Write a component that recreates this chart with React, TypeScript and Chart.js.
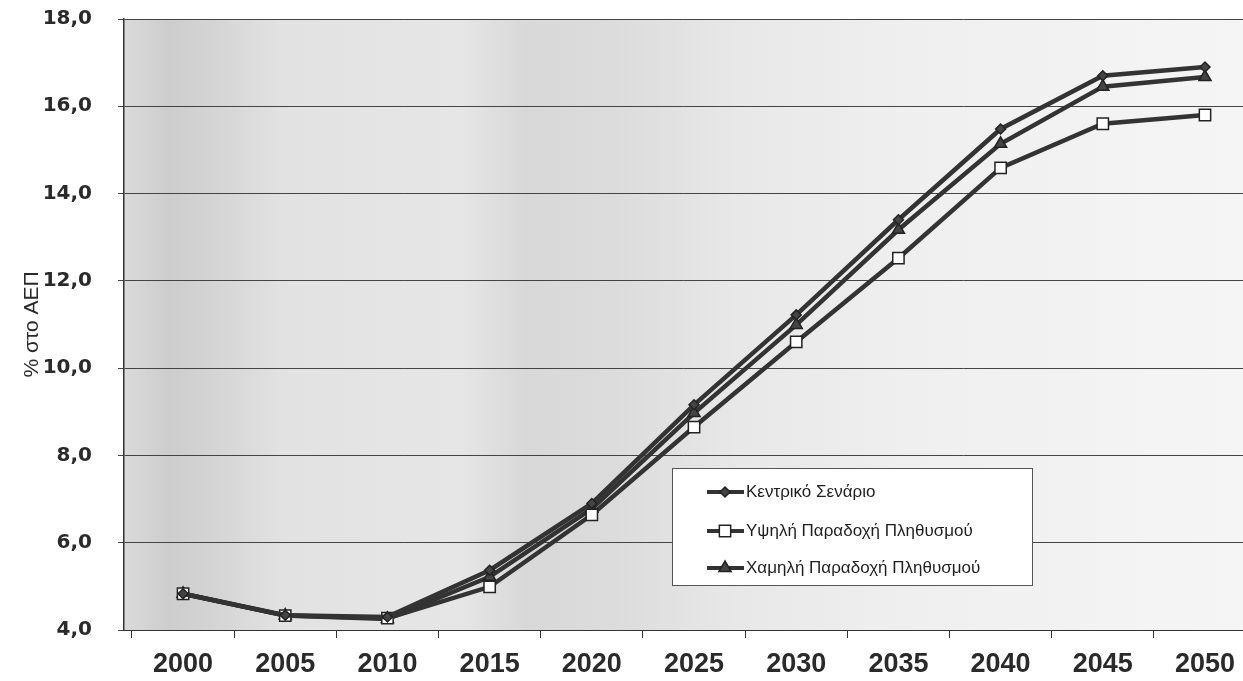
import React, { useEffect, useRef } from 'react';
import { Chart, registerables } from 'chart.js';

Chart.register(...registerables);

const years = [2000, 2005, 2010, 2015, 2020, 2025, 2030, 2035, 2040, 2045, 2050];
const central = [4.83, 4.34, 4.3, 5.37, 6.9, 9.16, 11.22, 13.4, 15.48, 16.7, 16.9];
const high = [4.83, 4.33, 4.27, 4.99, 6.64, 8.65, 10.6, 12.52, 14.59, 15.6, 15.8];
const low = [4.83, 4.33, 4.25, 5.22, 6.78, 8.97, 10.99, 13.17, 15.14, 16.45, 16.67];
const seriesLabels = ['Κεντρικό Σενάριο', 'Υψηλή Παραδοχή Πληθυσμού', 'Χαμηλή Παραδοχή Πληθυσμού'];
const yAxisTitle = '% στο ΑΕΠ';
const yMin = 4;
const yMax = 18;
const yStep = 2;

const LINE = '#333333';

const bgPlugin = {
  id: 'scanBg',
  beforeDraw(chart: any) {
    const { ctx, chartArea } = chart;
    if (!chartArea) return;
    const { left, top, right, bottom } = chartArea;
    ctx.save();
    const g = ctx.createLinearGradient(left, 0, right, 0);
    g.addColorStop(0, '#dadada');
    g.addColorStop(0.04, '#cdcdcd');
    g.addColorStop(0.08, '#d4d4d4');
    g.addColorStop(0.14, '#e2e2e2');
    g.addColorStop(0.3, '#e6e6e6');
    g.addColorStop(0.36, '#d8d8d8');
    g.addColorStop(0.44, '#dcdcdc');
    g.addColorStop(0.55, '#e8e8e8');
    g.addColorStop(0.7, '#efefef');
    g.addColorStop(1, '#f5f5f5');
    ctx.fillStyle = g;
    ctx.fillRect(left, top, right - left, bottom - top);
    ctx.restore();
  },
};

function drawMarker(ctx: CanvasRenderingContext2D, style: string, x: number, y: number, r: number, fill: string, stroke: string) {
  ctx.save();
  ctx.fillStyle = fill;
  ctx.strokeStyle = stroke;
  ctx.lineWidth = 1.5;
  ctx.beginPath();
  if (style === 'rectRot') {
    ctx.moveTo(x, y - r);
    ctx.lineTo(x + r, y);
    ctx.lineTo(x, y + r);
    ctx.lineTo(x - r, y);
    ctx.closePath();
  } else if (style === 'rect') {
    const s = r * Math.SQRT1_2;
    ctx.rect(x - s, y - s, 2 * s, 2 * s);
  } else {
    ctx.moveTo(x, y - r);
    ctx.lineTo(x + r * 0.87, y + r * 0.5);
    ctx.lineTo(x - r * 0.87, y + r * 0.5);
    ctx.closePath();
  }
  ctx.fill();
  ctx.stroke();
  ctx.restore();
}

const legendPlugin = {
  id: 'boxLegend',
  afterDatasetsDraw(chart: any) {
    const { ctx, chartArea } = chart;
    const bx = chartArea.left + 548;
    const by = chartArea.top + 449;
    const bw = 360;
    const bh = 117;
    ctx.save();
    ctx.fillStyle = '#ffffff';
    ctx.fillRect(bx, by, bw, bh);
    ctx.strokeStyle = '#555555';
    ctx.lineWidth = 1;
    ctx.strokeRect(bx + 0.5, by + 0.5, bw, bh);
    const rows = [24, 63, 100];
    chart.data.datasets.forEach((ds: any, i: number) => {
      const cy = by + rows[i];
      ctx.strokeStyle = ds.borderColor;
      ctx.lineWidth = 4;
      ctx.beginPath();
      ctx.moveTo(bx + 35, cy);
      ctx.lineTo(bx + 72, cy);
      ctx.stroke();
      drawMarker(ctx, ds.pointStyle, bx + 53, cy, ds.pointRadius, ds.pointBackgroundColor, ds.pointBorderColor);
      ctx.fillStyle = '#1e1e1e';
      ctx.font = '17px "Liberation Sans", Arial, sans-serif';
      ctx.textBaseline = 'middle';
      ctx.textAlign = 'left';
      ctx.fillText(ds.label, bx + 74, cy);
    });
    ctx.restore();
  },
};

export default function App() {
  const ref = useRef<HTMLCanvasElement | null>(null);

  useEffect(() => {
    document.body.style.margin = '0';
    const canvas = ref.current;
    if (!canvas) return;
    const mk = (arr: number[]) => years.map((x, i) => ({ x, y: arr[i] }));
    const chart = new Chart(canvas, {
      type: 'line',
      data: {
        datasets: [
          {
            label: seriesLabels[0],
            data: mk(central),
            borderColor: LINE,
            borderWidth: 4.5,
            pointStyle: 'rectRot',
            pointRadius: 5,
            pointBackgroundColor: '#444444',
            pointBorderColor: '#222222',
            pointBorderWidth: 1.5,
            tension: 0,
          },
          {
            label: seriesLabels[1],
            data: mk(high),
            borderColor: LINE,
            borderWidth: 4.5,
            pointStyle: 'rect',
            pointRadius: 8,
            pointBackgroundColor: '#ffffff',
            pointBorderColor: '#222222',
            pointBorderWidth: 1.5,
            tension: 0,
          },
          {
            label: seriesLabels[2],
            data: mk(low),
            borderColor: LINE,
            borderWidth: 4.5,
            pointStyle: 'triangle',
            pointRadius: 7,
            pointBackgroundColor: '#444444',
            pointBorderColor: '#222222',
            pointBorderWidth: 1.5,
            tension: 0,
          },
        ],
      },
      options: {
        animation: false,
        responsive: true,
        maintainAspectRatio: false,
        layout: { padding: 0, autoPadding: false },
        plugins: {
          legend: { display: false },
          tooltip: { enabled: false },
        },
        scales: {
          x: {
            type: 'linear',
            min: 1997.11,
            max: 2051.86,
            afterBuildTicks(scale: any) {
              const t: any[] = [];
              for (let v = 1997.5; v <= 2050.01; v += 2.5) t.push({ value: v });
              scale.ticks = t;
            },
            afterFit(scale: any) {
              scale.height = 51;
              scale.paddingLeft = 0;
              scale.paddingRight = 0;
            },
            grid: {
              drawOnChartArea: false,
              drawTicks: true,
              tickLength: 8,
              color: (c: any) => (c.tick && Math.abs(c.tick.value % 5) < 0.01 ? 'rgba(0,0,0,0)' : '#333333'),
            },
            border: { display: true, color: '#333333', width: 1 },
            ticks: {
              autoSkip: false,
              maxRotation: 0,
              minRotation: 0,
              padding: 10,
              color: '#2a2a2a',
              font: { family: '"Liberation Sans", Arial, sans-serif', size: 27, weight: 'bold' },
              callback: (v: any) => (Math.abs(Number(v) % 5) < 0.01 ? String(Math.round(Number(v))) : ''),
            },
          },
          y: {
            type: 'linear',
            min: yMin,
            max: yMax,
            afterFit(scale: any) {
              scale.width = 124;
              scale.paddingTop = 19;
              scale.paddingRight = 0;
              scale.paddingLeft = 0;
            },
            ticks: {
              stepSize: yStep,
              padding: 26,
              color: '#2a2a2a',
              font: { family: '"DejaVu Sans", sans-serif', size: 20, weight: 'bold' },
              callback: (v: any) => Number(v).toFixed(1).replace('.', ','),
            },
            grid: {
              color: '#444444',
              lineWidth: 1,
              tickLength: 6,
            },
            border: { display: true, color: '#333333', width: 1.5 },
            title: {
              display: true,
              text: yAxisTitle,
              color: '#2a2a2a',
              font: { family: '"Liberation Sans", Arial, sans-serif', size: 21 },
              padding: { top: 20, bottom: 0 },
            },
          },
        },
      },
      plugins: [bgPlugin, legendPlugin],
    } as any);
    return () => chart.destroy();
  }, []);

  return (
    <div style={{ position: 'relative', width: '1243px', height: '681px' }}>
      <canvas ref={ref} />
    </div>
  );
}
